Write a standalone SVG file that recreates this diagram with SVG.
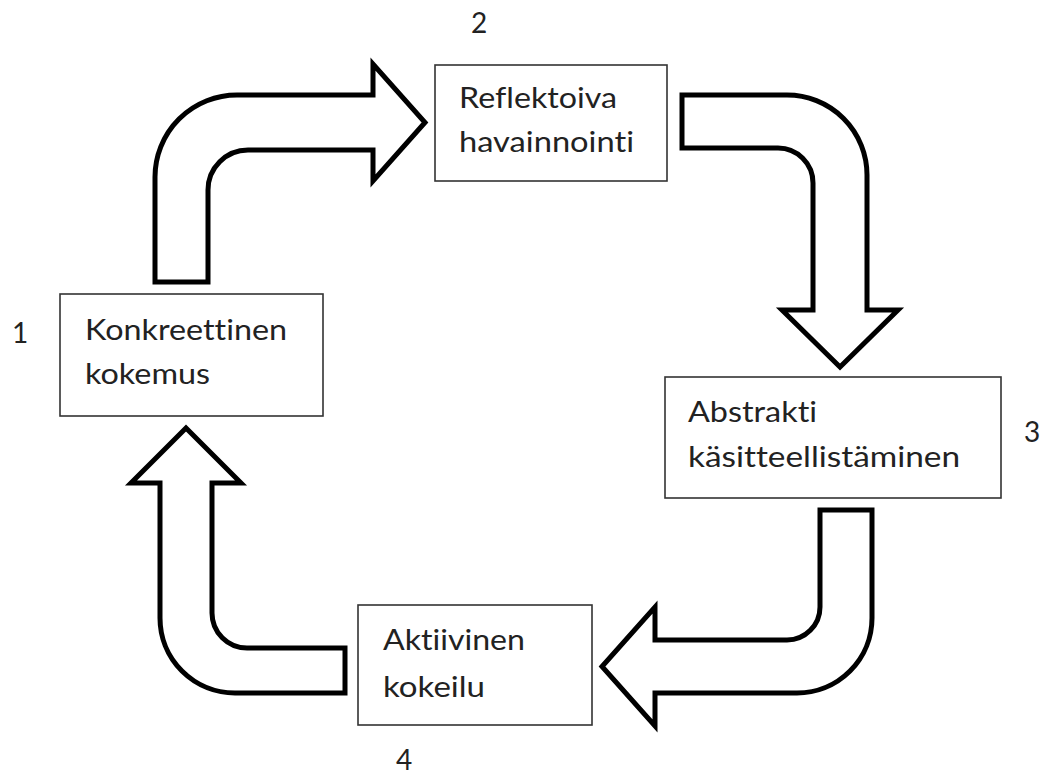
<svg xmlns="http://www.w3.org/2000/svg" width="1049" height="776" viewBox="0 0 1049 776">
<style>
.box{fill:#fff;stroke:#333;stroke-width:1.6}
.arr{fill:#fff;stroke:#000;stroke-width:5;stroke-linejoin:miter;stroke-miterlimit:10}
text{font-family:Lato,"Open Sans","Liberation Sans",sans-serif;font-size:28px;fill:#222;font-variant-ligatures:none;font-feature-settings:"liga" 0,"dlig" 0}
</style>
<rect width="1049" height="776" fill="#fff"/>
<g id="connectors">
<path class="arr" d="M 155 282 L 155 177 A 82 82 0 0 1 237 95 L 373 95 L 373 64 L 425 122.5 L 373 181 L 373 150 L 248 150 A 40 40 0 0 0 208 190 L 208 282 Z"/>
<path class="arr" d="M 682 95 L 787 95 A 80 80 0 0 1 867 175 L 867 310 L 898 310 L 840 367 L 782 310 L 813 310 L 813 183 A 35 35 0 0 0 778 148 L 682 148 Z"/>
<path class="arr" d="M 820 510 L 872 510 L 872 618 A 75 75 0 0 1 797 693 L 655 693 L 655 726 L 602 666.5 L 655 607 L 655 640 L 787 640 A 33 33 0 0 0 820 607 Z"/>
<path class="arr" d="M 345 693 L 235 693 A 75 75 0 0 1 160 618 L 160 483 L 131 483 L 186 428 L 241 483 L 212 483 L 212 613 A 35 35 0 0 0 247 648 L 345 648 Z"/>
</g>
<g id="node1">
<rect class="box" x="60" y="294" width="263" height="122"/>
<text x="85" y="340" textLength="202" lengthAdjust="spacingAndGlyphs">Konkreettinen</text>
<text x="85" y="384" textLength="125" lengthAdjust="spacingAndGlyphs">kokemus</text>
</g>
<g id="node2">
<rect class="box" x="435" y="65" width="232" height="116"/>
<text x="459" y="108" textLength="158" lengthAdjust="spacingAndGlyphs">Reflektoiva</text>
<text x="459" y="152" textLength="175" lengthAdjust="spacingAndGlyphs">havainnointi</text>
</g>
<g id="node3">
<rect class="box" x="665" y="377" width="336" height="121"/>
<text x="688" y="422" textLength="129" lengthAdjust="spacingAndGlyphs">Abstrakti</text>
<text x="688" y="467" textLength="272" lengthAdjust="spacingAndGlyphs">käsitteellistäminen</text>
</g>
<g id="node4">
<rect class="box" x="358" y="605" width="234" height="120"/>
<text x="383" y="650" textLength="142" lengthAdjust="spacingAndGlyphs">Aktiivinen</text>
<text x="383" y="697" textLength="102" lengthAdjust="spacingAndGlyphs">kokeilu</text>
</g>
<g id="labels">
<text x="12" y="343">1</text>
<text x="471" y="33">2</text>
<text x="1024" y="442">3</text>
<text x="396" y="770">4</text>
</g>
</svg>
